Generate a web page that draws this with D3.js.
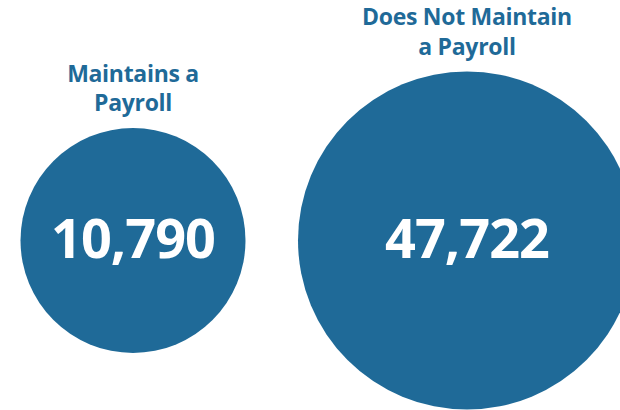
<!DOCTYPE html>
<html>
<head>
<meta charset="utf-8">
<script src="https://cdn.jsdelivr.net/npm/d3@7"></script>
<style>
  html, body { margin: 0; padding: 0; background: #fff; }
  svg { display: block; }
</style>
</head>
<body>
<svg id="chart" width="620" height="410"></svg>
<script>
// Employer counts by payroll status
const categories = ["Maintains a Payroll", "Does Not Maintain a Payroll"];
const titleLines = [["Maintains a", "Payroll"], ["Does Not Maintain", "a Payroll"]];
const values = [10790, 47722];

const W = 620, H = 410;
const blue = "#1f6a98";

const svg = d3.select("#chart");

// bubble centres along x, radius from value
const x = d3.scalePoint().domain(categories).range([133, 467]);
const r = d3.scaleLinear().domain(d3.extent(values)).range([112.5, 169]);
const cy = 240.5;

const fmt = d3.format(",");
const data = categories.map((c, i) => ({ c, v: values[i], lines: titleLines[i] }));

const g = svg.selectAll("g.bubble").data(data).join("g")
  .attr("class", "bubble")
  .attr("transform", d => `translate(${x(d.c)},${cy})`);

g.append("circle")
  .attr("r", d => r(d.v))
  .attr("fill", blue);

g.append("text")
  .attr("text-anchor", "middle")
  .attr("y", 17.3)
  .attr("fill", "#fff")
  .style("font-family", "'Open Sans', sans-serif")
  .style("font-weight", 700)
  .style("font-size", "54px")
  .style("letter-spacing", "-1px")
  .text(d => fmt(d.v));

// two-line titles above each bubble
const lineH = 29.5;
g.each(function(d) {
  const t = d3.select(this).append("text")
    .attr("text-anchor", "middle")
    .attr("fill", blue)
    .style("font-family", "'Open Sans', sans-serif")
    .style("font-weight", 700)
    .style("font-size", "23px")
    .style("letter-spacing", "-0.3px");
  const baseLast = -r(d.v) - 17;
  d.lines.forEach((ln, i) => {
    t.append("tspan")
      .attr("x", 0)
      .attr("y", baseLast - (d.lines.length - 1 - i) * lineH)
      .text(ln);
  });
});
</script>
</body>
</html>
